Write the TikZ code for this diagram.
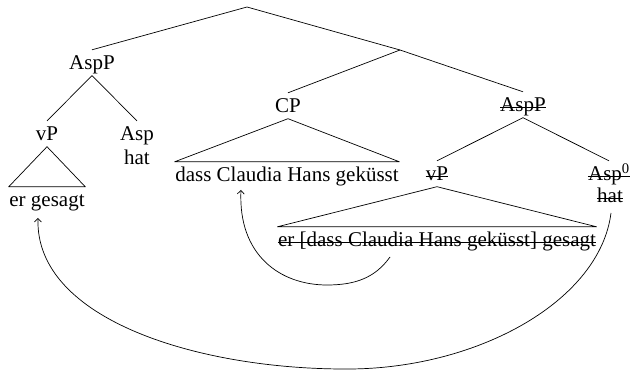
\documentclass[tikz,border=0pt]{standalone}
\usepackage{fontspec}
\setmainfont{Liberation Serif}
\usetikzlibrary{arrows.meta,calc}

\begin{document}
\begin{tikzpicture}[x=1pt,y=-1pt,
  lbl/.style={anchor=base, inner xsep=0.5pt, inner ysep=5.5pt,
    text height=14.5pt, text depth=0pt, font=\fontsize{21}{25}\selectfont},
  branch/.style={line width=0.7pt, line join=round},
  strike/.style={line width=0.8pt},
  mv/.style={line width=0.7pt, -{Straight Barb[length=3.5pt,width=7pt]}}]
\useasboundingbox (0,0) rectangle (630,371);

% branching points without labels
\coordinate (root) at (247,7);
\coordinate (bar) at (400,50);

% left half: the fronted AspP
\node[lbl] (aspL)  at (92,70)   {AspP};
\node[lbl] (vpL)   at (47,141)  {vP};
\node[lbl] (aspLh) at (137,141) {Asp};
\node[lbl] (hatL)  at (137,165) {hat};
\node[lbl] (erG)   at (47,207)  {er gesagt};

% right half
\node[lbl] (cp)    at (288,113) {CP};
\node[lbl] (dass)  at (287,182) {dass Claudia Hans geküsst};
\node[lbl] (aspR)  at (523,112) {AspP};
\node[lbl] (vpR)   at (437,181) {vP};
\node[lbl] (asp0)  at (609,181) {Asp\textsuperscript{0}};
\node[lbl] (hatR)  at (610,203) {hat};
\node[lbl] (erBig) at (437,247) {er [dass Claudia Hans geküsst] gesagt};

% deleted copies are struck through
\foreach \n in {aspR,vpR,asp0,hatR,erBig}
  \draw[strike] ($(\n.base west)+(0.5pt,5pt)$) -- ($(\n.base east)+(-0.5pt,5pt)$);

% branches
\draw[branch] (root) -- (aspL.north);
\draw[branch] (root) -- (bar) -- (aspR.north);
\draw[branch] (bar) -- (cp.north);
\draw[branch] (aspL.south) -- (vpL.north);
\draw[branch] (aspL.south) -- (aspLh.north);
\draw[branch] (aspR.south) -- (vpR.north);
\draw[branch] (aspR.south) -- (asp0.north);

% triangles
\draw[branch] (vpL.south) -- (erG.north west) -- (erG.north east) -- cycle;
\draw[branch] (cp.south) -- (dass.north west) -- (dass.north east) -- cycle;
\draw[branch] (vpR.south) -- (erBig.north west) -- (erBig.north east) -- cycle;

% movement arrows
\coordinate (m1s) at (390,257);
\coordinate (m1e) at (241,190);
\draw[mv] (m1s) .. controls (375,278) and (355,285) .. (327,285)
  .. controls (280,285) and (238,255) .. (m1e);

\coordinate (m2s) at (611,213);
\coordinate (m2e) at (38,218);
\draw[mv] (m2s) .. controls (600,300) and (480,368) .. (350,369)
  .. controls (200,370) and (35,320) .. (m2e);
\end{tikzpicture}
\end{document}
